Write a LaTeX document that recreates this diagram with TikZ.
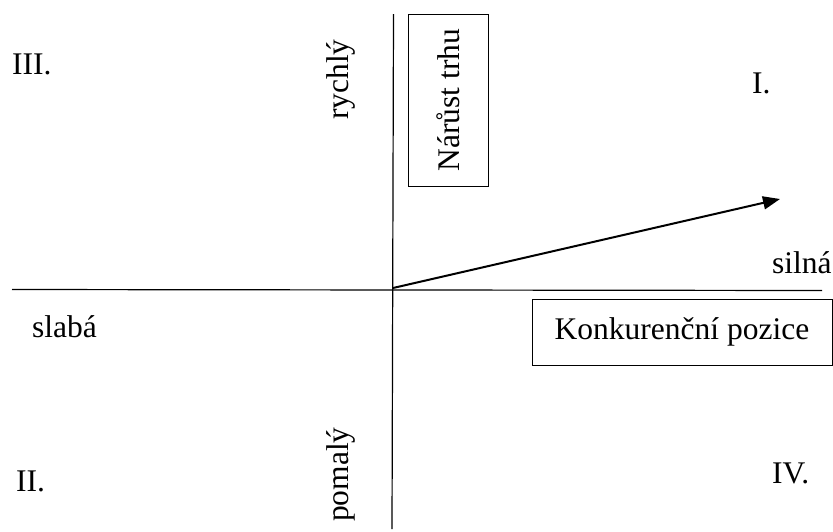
\documentclass[tikz,border=0pt]{standalone}
\usepackage{fontspec}
\setmainfont{Liberation Serif}
\usetikzlibrary{arrows.meta}
\begin{document}
\begin{tikzpicture}[x=1pt,y=-1pt,
  lbl/.style={inner sep=0pt,font=\fontsize{31.5}{36}\selectfont},
  boxed/.style={draw,line width=1pt,inner sep=0pt,font=\fontsize{31.5}{36}\selectfont},
  axis/.style={line width=1.2pt},
  vec/.style={line width=2pt,-{Triangle[length=17pt,width=13pt]}}]
\useasboundingbox (0,0) rectangle (833,531);
% axes
\coordinate (vtop) at (393.5,14);
\coordinate (vbot) at (392,529);
\coordinate (hleft) at (12,289.5);
\coordinate (hright) at (822,290.5);
\draw[axis] (vtop) -- (vbot);
\draw[axis] (hleft) -- (hright);
% vector
\coordinate (o) at (393,288);
\coordinate (tip) at (780,199);
\draw[vec] (o) -- (tip);
% boxes
\node[boxed,rotate=90,minimum width=172pt,minimum height=80pt] (nt) at (448,100) {Nárůst trhu};
\node[boxed,minimum width=300pt,minimum height=66pt] (kp) at (682,332) {Konkurenční pozice};
% labels
\node[lbl,anchor=base west] (q3) at (12,74) {III.};
\node[lbl,anchor=base west] (q1) at (752,93) {I.};
\node[lbl,anchor=base west] (q2) at (16,491) {II.};
\node[lbl,anchor=base west] (q4) at (772,483) {IV.};
\node[lbl,anchor=base west] (sl) at (32,337) {slabá};
\node[lbl,anchor=base west] (si) at (772,273) {silná};
\node[lbl,rotate=90,anchor=base west] (ry) at (348,120) {rychlý};
\node[lbl,rotate=90,anchor=base west] (po) at (348,522) {pomalý};
\end{tikzpicture}
\end{document}
